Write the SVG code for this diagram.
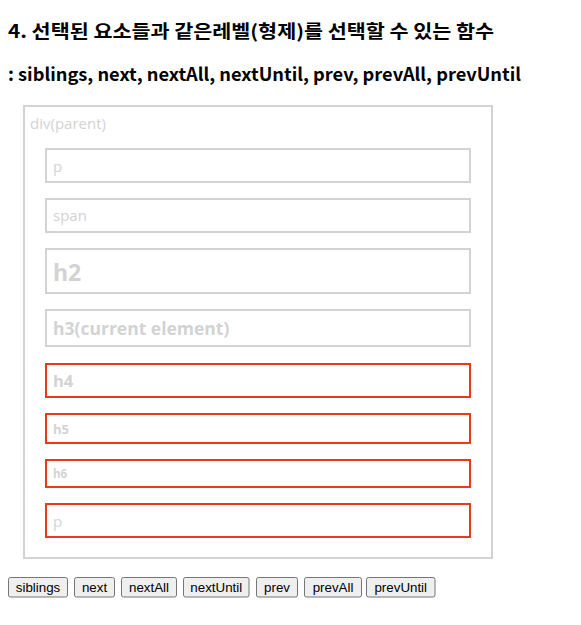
<svg xmlns="http://www.w3.org/2000/svg" width="581" height="625" viewBox="0 0 581 625">
<style>
.title{font-family:"Noto Sans CJK KR","Open Sans",sans-serif;font-weight:bold;font-size:18px;fill:#000}
.box{fill:none;stroke:#d3d3d3;stroke-width:2}
.sel{fill:none;stroke:#ea3a1e;stroke-width:2}
.lbl{font-family:"Open Sans","Noto Sans",sans-serif;fill:#d3d3d3}
.b{font-weight:bold}
.btn rect{fill:#efefef;stroke:#767676;stroke-width:1}
.btn text{font-family:"Liberation Sans",Arial,sans-serif;font-size:13.33px;fill:#000;text-anchor:middle}
</style>
<rect width="581" height="625" fill="#fff"/>
<text class="title" x="8" y="38" textLength="486" lengthAdjust="spacingAndGlyphs">4. 선택된 요소들과 같은레벨(형제)를 선택할 수 있는 함수</text>
<text class="title" x="8" y="81" textLength="513" lengthAdjust="spacingAndGlyphs">: siblings, next, nextAll, nextUntil, prev, prevAll, prevUntil</text>
<g id="parent">
<rect class="box" x="24" y="106" width="468" height="452"/>
<text class="lbl" x="30" y="129" font-size="15">div(parent)</text>
</g>
<g id="p1"><rect class="box" x="46" y="149" width="424" height="33"/><text class="lbl" x="53" y="172" font-size="15">p</text></g>
<g id="span"><rect class="box" x="46" y="199" width="424" height="33"/><text class="lbl" x="53" y="221" font-size="15">span</text></g>
<g id="h2"><rect class="box" x="46" y="249" width="424" height="44"/><text class="lbl b" x="53" y="281" font-size="23">h2</text></g>
<g id="h3"><rect class="box" x="46" y="310" width="424" height="36"/><text class="lbl b" x="53" y="335" font-size="17.5">h3(current element)</text></g>
<g id="h4"><rect class="sel" x="46" y="364" width="424" height="33"/><text class="lbl b" x="53" y="387" font-size="16.5">h4</text></g>
<g id="h5"><rect class="sel" x="46" y="414" width="424" height="29"/><text class="lbl b" x="53" y="433.5" font-size="13">h5</text></g>
<g id="h6"><rect class="sel" x="46" y="460" width="424" height="27"/><text class="lbl b" x="53" y="477.5" font-size="11.5">h6</text></g>
<g id="p2"><rect class="sel" x="46" y="504" width="424" height="33"/><text class="lbl" x="53" y="527" font-size="15">p</text></g>
<g id="buttons">
<g class="btn" id="btn-siblings"><rect x="8.5" y="577.5" width="59" height="19.5" rx="2"/><text x="38" y="592">siblings</text></g>
<g class="btn" id="btn-next"><rect x="74.5" y="577.5" width="40" height="19.5" rx="2"/><text x="94.5" y="592">next</text></g>
<g class="btn" id="btn-nextAll"><rect x="121.5" y="577.5" width="55" height="19.5" rx="2"/><text x="149" y="592">nextAll</text></g>
<g class="btn" id="btn-nextUntil"><rect x="183.5" y="577.5" width="65.5" height="19.5" rx="2"/><text x="216.25" y="592">nextUntil</text></g>
<g class="btn" id="btn-prev"><rect x="256.5" y="577.5" width="41" height="19.5" rx="2"/><text x="277" y="592">prev</text></g>
<g class="btn" id="btn-prevAll"><rect x="304.5" y="577.5" width="57" height="19.5" rx="2"/><text x="333" y="592">prevAll</text></g>
<g class="btn" id="btn-prevUntil"><rect x="366.5" y="577.5" width="68.5" height="19.5" rx="2"/><text x="400.75" y="592">prevUntil</text></g>
</g>
</svg>
